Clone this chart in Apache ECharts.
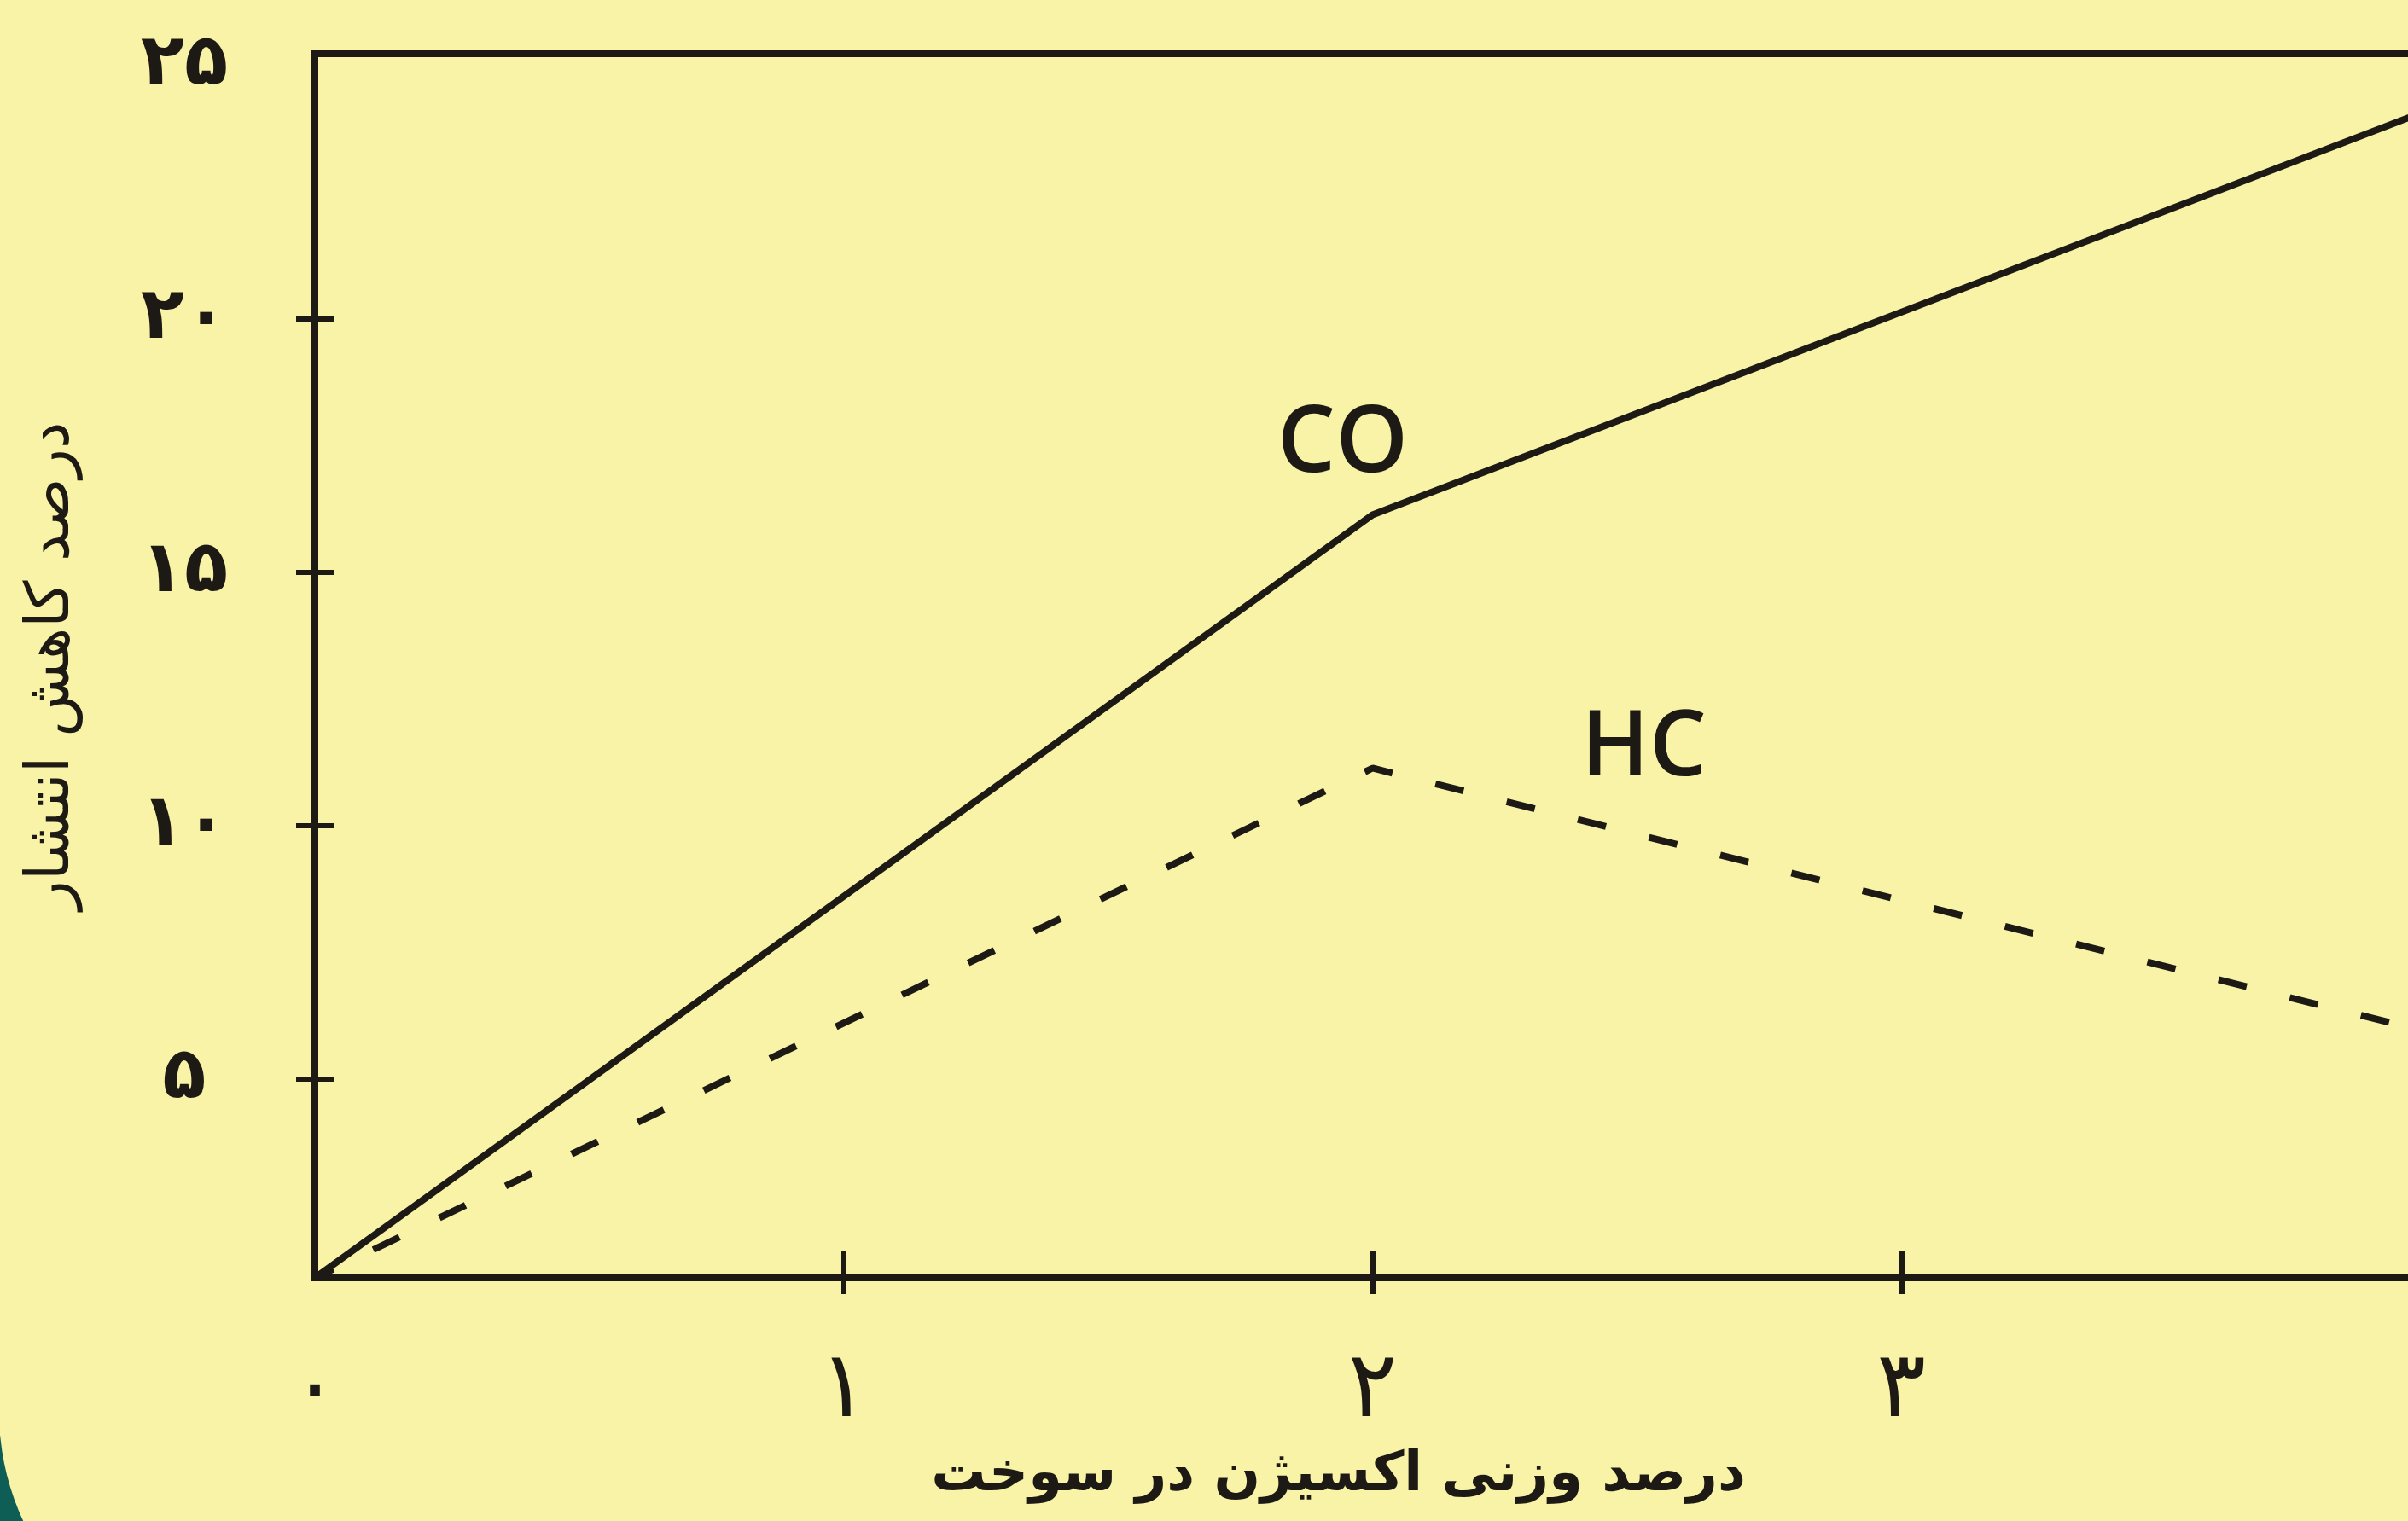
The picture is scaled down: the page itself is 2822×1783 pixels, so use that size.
<!DOCTYPE html>
<html>
<head>
<meta charset="utf-8">
<script src="https://cdn.jsdelivr.net/npm/echarts@6/dist/echarts.min.js"></script>
<style>
  html, body { margin: 0; padding: 0; background: #F9F3A7; overflow: hidden; }
  #chart { width: 2822px; height: 1783px; }
</style>
</head>
<body>
<div id="chart"></div>
<script>
// ---- data ----
const xTickValues = [0, 1, 2, 3, 4];          // oxygen weight % ticks
const yTickValues = [5, 10, 15, 20, 25];      // emission-reduction % ticks
const oxygenPercent = [0, 2, 4];
const coReduction = [1.08, 16.14, 24.14];
const hcReduction = [1.08, 11.14, 5.92];
const seriesNames = ['CO', 'HC'];
const xAxisTitle = 'درصد وزنی اکسیژن در سوخت';
const yAxisTitle = 'درصد کاهش انتشار';

const INK = '#1d1a15';
const faDigits = '۰۱۲۳۴۵۶۷۸۹';
const toFa = v => String(v).replace(/\d/g, d => faDigits[d]);

function pairs(xs, ys) { return xs.map((x, i) => [x, ys[i]]); }

const chart = echarts.init(document.getElementById('chart'), null, { renderer: 'canvas' });

const yMin = 1.08, yMax = 25.24;

const option = {
  backgroundColor: 'transparent',
  animation: false,
  graphic: [
    { type: 'rect', z: -20, shape: { x: 0, y: 1683, width: 90, height: 100 }, style: { fill: '#0e5e55' } },
    { type: 'circle', z: -19, shape: { cx: 299, cy: 1656, r: 300 }, style: { fill: '#F9F3A7' } }
  ],
  grid: {
    left: 369, top: 63, width: 2479, height: 1435,
    containLabel: false, outerBoundsMode: 'none',
    show: true, borderColor: INK, borderWidth: 8, backgroundColor: 'transparent'
  },
  xAxis: [
    {
      type: 'value', min: 0, max: 4, interval: 1, position: 'bottom',
      axisLine: { show: true, lineStyle: { color: INK, width: 8 } },
      axisTick: { show: true, inside: false, length: 19, customValues: [1, 2, 3, 4], lineStyle: { color: INK, width: 6 } },
      axisLabel: {
        show: true, customValues: xTickValues, formatter: v => toFa(v),
        color: INK, fontSize: 108, fontFamily: 'DejaVu Sans', margin: 80,
        hideOverlap: false
      },
      splitLine: { show: false },
      name: xAxisTitle, nameLocation: 'middle', nameGap: 200,
      nameTextStyle: { color: INK, fontSize: 64, fontWeight: 'bold', fontFamily: 'DejaVu Sans', padding: [0, 80, 0, 0] }
    },
    {
      type: 'value', min: 0, max: 4, interval: 1, position: 'bottom',
      axisLine: { show: false },
      axisTick: { show: true, inside: true, length: 31, customValues: [1, 2, 3, 4], lineStyle: { color: INK, width: 6 } },
      axisLabel: { show: false },
      splitLine: { show: false }
    }
  ],
  yAxis: [
    {
      type: 'value', min: yMin, max: yMax, position: 'left',
      axisLine: { show: true, lineStyle: { color: INK, width: 8 } },
      axisTick: { show: true, inside: false, length: 22, customValues: [5, 10, 15, 20], lineStyle: { color: INK, width: 6 } },
      axisLabel: {
        show: true, customValues: yTickValues, formatter: v => toFa(v),
        color: INK, fontSize: 84, fontWeight: 'bold', fontFamily: 'DejaVu Sans',
        align: 'center', margin: 153
      },
      splitLine: { show: false },
      name: yAxisTitle, nameLocation: 'middle', nameGap: 272, nameRotate: 90,
      nameTextStyle: { color: INK, fontSize: 71, fontFamily: 'DejaVu Sans' }
    },
    {
      type: 'value', min: yMin, max: yMax, position: 'left',
      axisLine: { show: false },
      axisTick: { show: true, inside: true, length: 22, customValues: [5, 10, 15, 20], lineStyle: { color: INK, width: 6 } },
      axisLabel: { show: false },
      splitLine: { show: false }
    }
  ],
  series: [
    {
      name: seriesNames[0], type: 'line', xAxisIndex: 0, yAxisIndex: 0,
      data: pairs(oxygenPercent, coReduction),
      showSymbol: false, symbol: 'none',
      lineStyle: { color: INK, width: 8, type: 'solid', join: 'round' },
      markPoint: {
        symbol: 'circle', symbolSize: 1, itemStyle: { color: 'rgba(0,0,0,0)' },
        label: {
          show: true, position: 'inside', formatter: seriesNames[0], offset: [-35, -81],
          color: INK, fontSize: 108, fontFamily: 'Open Sans', fontWeight: 600
        },
        data: [{ coord: [oxygenPercent[1], coReduction[1]] }]
      }
    },
    {
      name: seriesNames[1], type: 'line', xAxisIndex: 0, yAxisIndex: 0,
      data: pairs(oxygenPercent, hcReduction),
      showSymbol: false, symbol: 'none',
      lineStyle: { color: INK, width: 8, type: [34, 52], dashOffset: 10 },
      markPoint: {
        symbol: 'circle', symbolSize: 1, itemStyle: { color: 'rgba(0,0,0,0)' },
        label: {
          show: true, position: 'inside', formatter: seriesNames[1], offset: [318, -22],
          color: INK, fontSize: 106, fontFamily: 'Open Sans', fontWeight: 600
        },
        data: [{ coord: [oxygenPercent[1], hcReduction[1]] }]
      }
    }
  ]
};

chart.setOption(option);
</script>
</body>
</html>
